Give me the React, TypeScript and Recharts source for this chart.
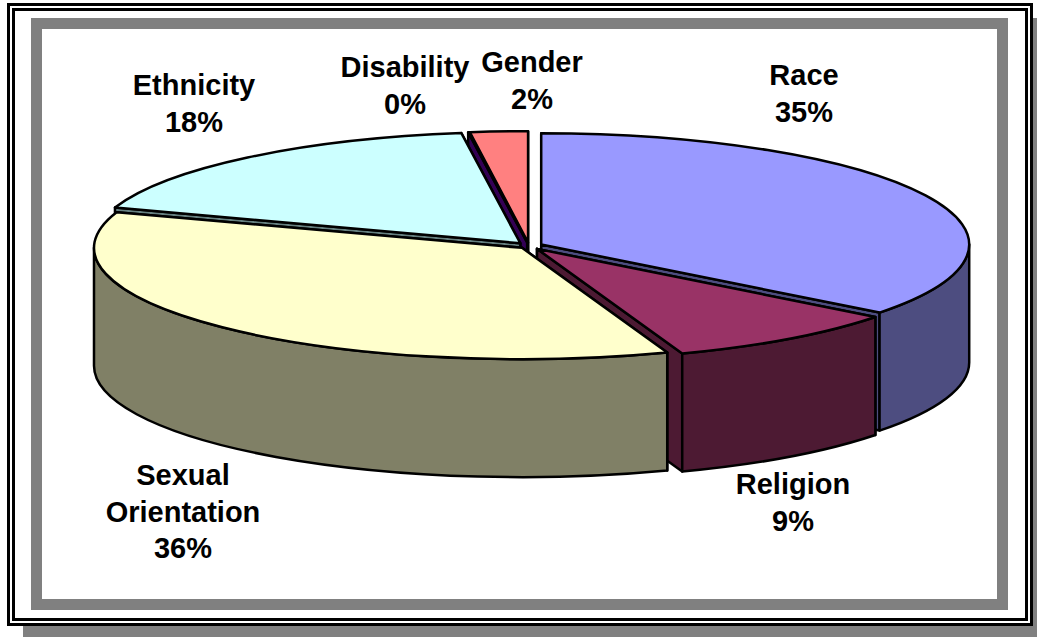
import { PieChart, Pie } from 'recharts';

const names = ['Race', 'Religion', 'Sexual Orientation', 'Ethnicity', 'Disability', 'Gender'];
const shares = [35.49, 9.0, 35.71, 17.6, 0.03, 2.17];
const explodes = [13.6, 13.6, 10, 13.6, 13.6, 13.6];
const topColors = ['#9999FF', '#993366', '#FFFFCC', '#CCFFFF', '#330055', '#FF8080'];
const sideColors = ['#4D4D80', '#4D1A33', '#808066', '#668080', '#330055', '#330055'];

// back slices first so that the nearer ones cover their walls
const drawOrder = ['Gender', 'Disability', 'Ethnicity', 'Race', 'Religion', 'Sexual Orientation'];

const chartData = names.map((name, i) => ({
  name,
  share: shares[i],
  explode: explodes[i],
  top: topColors[i],
  side: sideColors[i],
}));

const labelLines: Record<string, string[]> = {
  Race: ['Race'],
  Religion: ['Religion'],
  'Sexual Orientation': ['Sexual', 'Orientation'],
  Ethnicity: ['Ethnicity'],
  Disability: ['Disability'],
  Gender: ['Gender'],
};

// centre of the first line of each label
const labelSpots: Record<string, [number, number]> = {
  Race: [804, 85],
  Religion: [793, 494],
  'Sexual Orientation': [183, 485],
  Ethnicity: [194, 95],
  Disability: [405, 77],
  Gender: [532, 72],
};

const TILT = 0.26;
const DEPTH = 118;
const LINE_HEIGHT = 36.5;

const rad = (deg: number) => (deg * Math.PI) / 180;

function Slice(props: any) {
  const { cx, cy, outerRadius, startAngle, endAngle, payload, only } = props;
  if (payload.name !== only) return null;
  const rx = outerRadius;
  const ry = outerRadius * TILT;
  const mid = rad((startAngle + endAngle) / 2);
  const ox = cx + payload.explode * Math.cos(mid);
  const oy = cy - payload.explode * TILT * Math.sin(mid);
  const at = (deg: number) => [ox + rx * Math.cos(rad(deg)), oy - ry * Math.sin(rad(deg))];
  const [sx, sy] = at(startAngle);
  const [ex, ey] = at(endAngle);
  const large = Math.abs(startAngle - endAngle) > 180 ? 1 : 0;
  const common = { stroke: '#000', strokeWidth: 2.5, strokeLinejoin: 'round' as const };

  const hi = Math.min(startAngle, 0);
  const lo = Math.max(endAngle, -180);
  let outer = null;
  if (hi > lo) {
    const [ax, ay] = at(hi);
    const [bx, by] = at(lo);
    outer = (
      <path
        d={`M${ax},${ay} A${rx},${ry} 0 0 1 ${bx},${by} L${bx},${by + DEPTH} A${rx},${ry} 0 0 0 ${ax},${ay + DEPTH} Z`}
        fill={payload.side}
        {...common}
      />
    );
  }

  // the radial wall that reaches lowest is the one facing us, draw it last
  const edges = [
    [sx, sy],
    [ex, ey],
  ].sort((a, b) => a[1] - b[1]);

  return (
    <g>
      {edges.map(([px, py]) => (
        <path
          key={`${px}`}
          d={`M${ox},${oy} L${px},${py} L${px},${py + DEPTH} L${ox},${oy + DEPTH} Z`}
          fill={payload.side}
          {...common}
        />
      ))}
      {outer}
      <path d={`M${ox},${oy} L${sx},${sy} A${rx},${ry} 0 ${large} 1 ${ex},${ey} Z`} fill={payload.top} {...common} />
    </g>
  );
}

function SliceLabel(props: any) {
  const { payload, value } = props;
  const [x, y] = labelSpots[payload.name];
  const lines = [...labelLines[payload.name], `${Number(value).toFixed(0)}%`];
  return (
    <text
      x={x}
      y={y}
      textAnchor="middle"
      fontFamily="'Liberation Sans', Arial, sans-serif"
      fontWeight="bold"
      fontSize={29}
      fill="#000"
    >
      {lines.map((line, i) => (
        <tspan key={line} x={x} y={y + i * LINE_HEIGHT}>
          {line}
        </tspan>
      ))}
    </text>
  );
}

const box = (left: number, top: number, right: number, bottom: number, style: React.CSSProperties) => (
  <div style={{ position: 'absolute', left, top, width: right - left, height: bottom - top, boxSizing: 'border-box', ...style }} />
);

export default function App() {
  return (
    <div style={{ position: 'absolute', left: 0, top: 0, width: 1037, height: 637, background: '#fff', overflow: 'hidden' }}>
      {box(1000, 18, 1037, 637, { background: '#808080' })}
      {box(23, 600, 1037, 637, { background: '#808080' })}
      {box(7, 3, 1033, 626, { background: '#fff', border: '3px solid #000' })}
      {box(12, 8, 1028, 621, { background: '#fff', border: '3px solid #000' })}
      {box(31, 18, 1008, 610, { background: '#fff', border: '11px solid #808080' })}
      <div style={{ position: 'absolute', left: 0, top: 0 }}>
        <PieChart width={1037} height={637} margin={{ top: 0, right: 0, bottom: 0, left: 0 }}>
          {drawOrder.map((only) => (
            <Pie
              key={only}
              data={chartData}
              dataKey="share"
              nameKey="name"
              cx={529}
              cy={246}
              innerRadius={0}
              outerRadius={428}
              startAngle={90}
              endAngle={-270}
              paddingAngle={0}
              stroke="none"
              isAnimationActive={false}
              shape={(p: any) => <Slice {...p} only={only} />}
              label={only === 'Sexual Orientation' ? SliceLabel : false}
              labelLine={false}
            />
          ))}
        </PieChart>
      </div>
    </div>
  );
}
